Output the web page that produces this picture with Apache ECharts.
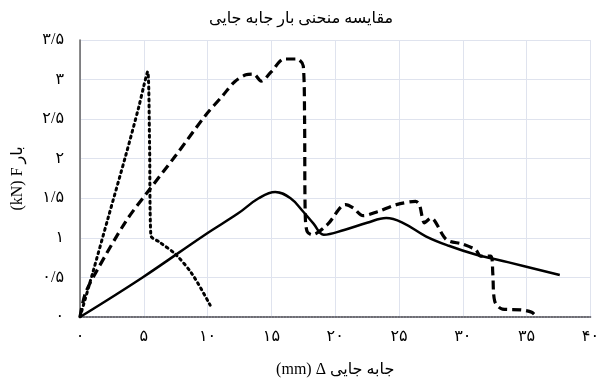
<!DOCTYPE html>
<html><head><meta charset="utf-8">
<script src="https://cdn.jsdelivr.net/npm/echarts@6/dist/echarts.min.js"></script>
<style>html,body{margin:0;padding:0;background:#fff}#c{width:602px;height:383px}</style>
</head><body><div id="c"></div>
<script>
const titleText = 'مقایسه منحنی بار جابه جایی';
const xName = '(mm) Δ جابه جایی';
const yName = '(kN) F بار';
const xTicks = [0,5,10,15,20,25,30,35,40];
const yTicks = [0,0.5,1,1.5,2,2.5,3,3.5];

const dottedX = [0, 1.0, 2.2, 3.6, 4.6, 5.0, 5.3, 5.45, 5.55, 6.2, 7.5, 8.8, 10.2];
const dottedY = [0, 0.56, 1.25, 2.05, 2.65, 2.92, 3.1, 2.2, 1.03, 0.95, 0.79, 0.54, 0.15];

const dashedX = [0, 0.4, 1.3, 3.6, 5.3, 7.5, 9.8, 11.2, 12.1, 13.0, 13.6, 14.2, 15.0, 16.0, 17.0, 17.5, 17.6, 17.65, 17.8, 18.2, 19.4, 20.8, 21.4, 22.2, 23.3, 24.8, 26.3, 26.6, 27.0, 27.5, 28.7, 30.0, 31.0, 31.4, 32.2, 32.35, 32.5, 33.1, 34.6, 35.4, 35.8];
const dashedY = [0, 0.29, 0.58, 1.21, 1.58, 2.04, 2.54, 2.8, 2.97, 3.06, 3.07, 2.98, 3.1, 3.26, 3.26, 3.17, 2.5, 1.3, 1.08, 1.04, 1.17, 1.42, 1.38, 1.28, 1.33, 1.42, 1.46, 1.42, 1.19, 1.25, 0.98, 0.92, 0.85, 0.77, 0.77, 0.55, 0.2, 0.1, 0.09, 0.06, 0.0];

const solidX = [0, 4.9, 9.8, 12.4, 14.0, 15.3, 16.5, 17.5, 18.3, 19.1, 20.7, 22.5, 24.0, 25.3, 27.1, 28.9, 31.0, 33.6, 37.6];
const solidY = [0, 0.5, 1.04, 1.31, 1.5, 1.58, 1.5, 1.33, 1.18, 1.04, 1.1, 1.19, 1.25, 1.19, 1.02, 0.9, 0.79, 0.69, 0.53];

function fa(v){
  const d='۰۱۲۳۴۵۶۷۸۹';
  return String(v).replace(/[0-9]/g, c=>d[+c]).replace('.', '/');
}
const pair = (xs, ys) => xs.map((x,i)=>[x, ys[i]]);
const FONT = 'Liberation Serif, DejaVu Serif, DejaVu Sans, serif';

const chart = echarts.init(document.getElementById('c'), null, {renderer:'canvas'});
chart.setOption({
  animation:false,
  backgroundColor:'#fff',
  title:{text:titleText, left:'center', top:6, textStyle:{fontFamily:FONT, fontSize:16, fontWeight:'normal', color:'#000'}},
  grid:{left:80, right:5, top:40, bottom:63},
  xAxis:[{
    type:'value', min:0, max:40, interval:5,
    name:xName, nameLocation:'middle', nameGap:45,
    nameTextStyle:{fontFamily:FONT, fontSize:16, color:'#000'},
    axisLine:{show:true, lineStyle:{color:'#b4b4c8', width:2}},
    axisTick:{show:false},
    axisLabel:{formatter:fa, fontFamily:FONT, fontSize:16, color:'#000', margin:12},
    splitLine:{show:true, lineStyle:{color:'#dfe3ee', width:1}}
  },{
    type:'value', min:0, max:40, interval:5, position:'top',
    axisLine:{show:true, lineStyle:{color:'#555', width:1.5, type:'dotted'}},
    axisTick:{show:false}, axisLabel:{show:false}, splitLine:{show:false}
  }],
  yAxis:[{
    type:'value', min:0, max:3.5, interval:0.5,
    name:yName, nameLocation:'middle', nameGap:54, nameRotate:90,
    nameTextStyle:{fontFamily:FONT, fontSize:16, color:'#000'},
    axisLine:{show:true, lineStyle:{color:'#c8c8d4', width:1}},
    axisTick:{show:false},
    axisLabel:{formatter:fa, fontFamily:FONT, fontSize:16, color:'#000', margin:16},
    splitLine:{show:true, lineStyle:{color:'#dfe3ee', width:1}}
  },{
    type:'value', min:0, max:3.5, interval:0.5, position:'right',
    axisLine:{show:true, lineStyle:{color:'#666', width:1.5}},
    axisTick:{show:false}, axisLabel:{show:false}, splitLine:{show:false}
  }],
  series:[
    {type:'line', data:pair(dottedX, dottedY), smooth:0.3, showSymbol:false, symbol:'none',
     lineStyle:{color:'#000', width:3, type:[2,4], cap:'round'}},
    {type:'line', data:pair(dashedX, dashedY), smooth:0.3, showSymbol:false, symbol:'none',
     lineStyle:{color:'#000', width:3.2, type:[9,5]}},
    {type:'line', data:pair(solidX, solidY), smooth:0.4, showSymbol:false, symbol:'none',
     lineStyle:{color:'#000', width:2.5}}
  ]
});
</script></body></html>
